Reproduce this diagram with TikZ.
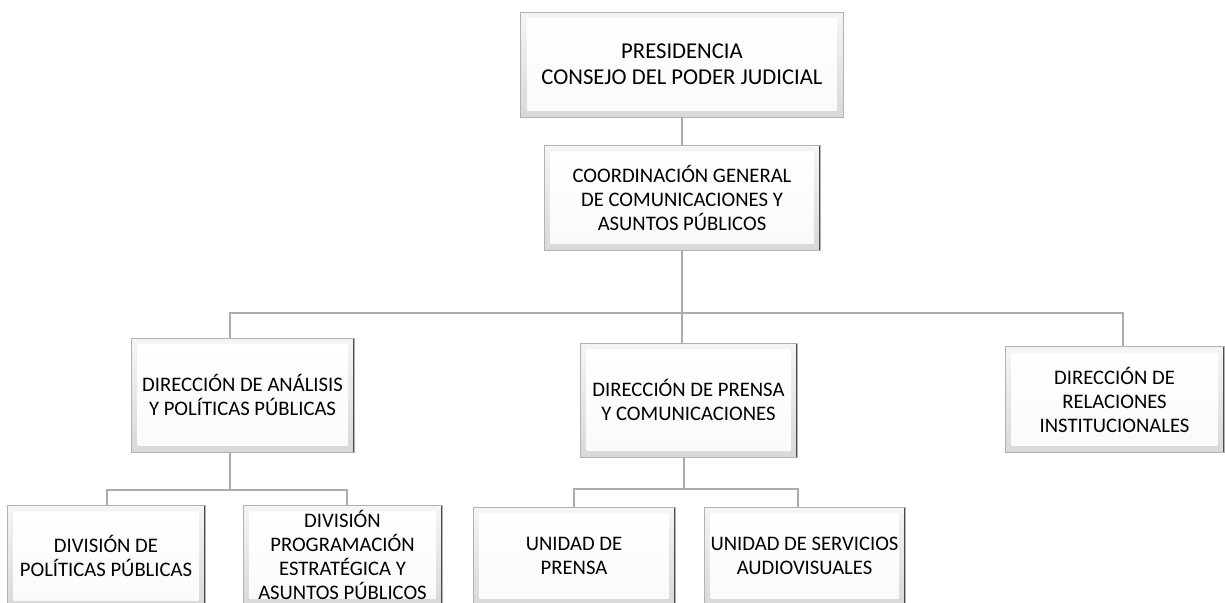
\documentclass[tikz,border=0pt]{standalone}
\usepackage{fontspec}
\setmainfont{Carlito}
\usepackage{tikz}
\usetikzlibrary{calc}

\newcommand{\orgfont}{\fontsize{15.5}{18}\selectfont}

\begin{document}
\begin{tikzpicture}[x=0.75pt,y=-0.75pt]
          \tikzset{
            unit/.style={rectangle, draw=gray!60, line width=0.6pt, inner sep=0pt,
              align=center, font=\orgfont,
              path picture={
                \shade[top color=gray!8, bottom color=gray!30]
                  (path picture bounding box.south west) rectangle (path picture bounding box.north east);
                \shade[top color=white, bottom color=gray!4]
                  ([shift={(5pt,-5pt)}]path picture bounding box.north west) rectangle
                  ([shift={(-5pt,5pt)}]path picture bounding box.south east);
                \draw[black!70, line width=1.4pt]
                  (path picture bounding box.south west) -- (path picture bounding box.north west)
                  (path picture bounding box.south east) -- (path picture bounding box.north east);
              }},
            link/.style={draw=gray!65, line width=1.6pt}
          }
          \useasboundingbox (0,0) rectangle (1225,603);
          \clip (0,0) rectangle (1225,603);
          % junctions
          \coordinate (j1) at (682,313);
          \coordinate (j1l) at (230,313);
          \coordinate (j1r) at (1123,313);
          \coordinate (j2) at (230,490);
          \coordinate (j2l) at (107,490);
          \coordinate (j2r) at (347,490);
          \coordinate (j3) at (684,489);
          \coordinate (j3l) at (574,489);
          \coordinate (j3r) at (798,489);

          % units
          \node[unit, minimum width=242.25pt, minimum height=78.75pt, font=\fontsize{17}{19.5}\selectfont] (pres) at (682,64.5)
            {PRESIDENCIA\\CONSEJO DEL PODER JUDICIAL};
          \node[unit, minimum width=207pt, minimum height=78.75pt] (coord) at (682,197.5)
            {COORDINACIÓN GENERAL\\DE COMUNICACIONES Y\\ASUNTOS PÚBLICOS};
          \node[unit, minimum width=167.25pt, minimum height=85.5pt] (dan) at (242.5,395)
            {DIRECCIÓN DE ANÁLISIS\\Y POLÍTICAS PÚBLICAS};
          \node[unit, minimum width=162.75pt, minimum height=85.5pt] (dpc) at (688.5,400)
            {DIRECCIÓN DE PRENSA\\Y COMUNICACIONES};
          \node[unit, minimum width=164.25pt, minimum height=79.5pt] (drel) at (1114.5,399.5)
            {DIRECCIÓN DE\\RELACIONES\\INSTITUCIONALES};
          \node[unit, minimum width=148.5pt, minimum height=76.5pt] (dpp) at (106,556)
            {DIVISIÓN DE\\POLÍTICAS PÚBLICAS};
          \node[unit, minimum width=149.25pt, minimum height=75pt] (dpe) at (342.5,555)
            {DIVISIÓN\\PROGRAMACIÓN\\ESTRATÉGICA Y\\ASUNTOS PÚBLICOS};
          \node[unit, minimum width=151.5pt, minimum height=73.5pt] (upr) at (574,556)
            {UNIDAD DE\\PRENSA};
          \node[unit, minimum width=150.75pt, minimum height=73.5pt] (usa) at (804.5,556)
            {UNIDAD DE SERVICIOS\\AUDIOVISUALES};

          % links
          \draw[link] (pres.south) -- (coord.north);
          \draw[link] (coord.south) -- (j1) -- (j1 |- dpc.north);
          \draw[link] (j1l |- dan.north) -- (j1l) -- (j1r) -- (j1r |- drel.north);
          \draw[link] (j2 |- dan.south) -- (j2);
          \draw[link] (j2l |- dpp.north) -- (j2l) -- (j2r) -- (j2r |- dpe.north);
          \draw[link] (j3 |- dpc.south) -- (j3);
          \draw[link] (j3l |- upr.north) -- (j3l) -- (j3r) -- (j3r |- usa.north);
        \end{tikzpicture}
\end{document}
